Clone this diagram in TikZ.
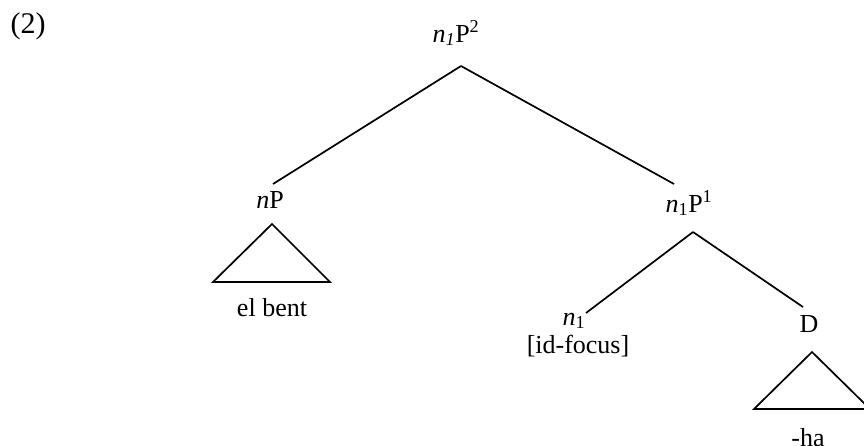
\documentclass[tikz,border=0pt]{standalone}
\usepackage{fontspec}
\setmainfont{Liberation Serif}
\usepackage{tikz}

\begin{document}
\begin{tikzpicture}[
  x=1pt,y=-1pt,
  every node/.style={font=\fontsize{26}{30}\selectfont},
  lab/.style={inner sep=0pt,anchor=base},
  branch/.style={line width=1.7pt},
  roof/.style={line width=1.7pt,line join=miter}
]
\useasboundingbox (0,0) rectangle (864,445);
\node[lab,font=\fontsize{30}{34}\selectfont] (ex) at (28,33) {(2)};
\node[lab] (np2) at (456,42) {\textit{n}\textsubscript{\textit{1}}P\textsuperscript{2}};
\node[lab] (np) at (270,208) {\textit{n}P};
\node[lab] (np1) at (689,212) {\textit{n}\textsubscript{1}P\textsuperscript{1}};
\node[lab] (n1) at (574,325) {\textit{n}\textsubscript{1}};
\node[lab] (feat) at (578,353) {[id-focus]};
\node[lab] (d) at (809,332) {D};
\node[lab] (elbent) at (272,316) {el bent};
\node[lab] (ha) at (808,446) {-ha};
% branches
\draw[branch] ([xshift=5pt,yshift=-24pt]np2.base) -- ([xshift=3pt,yshift=24pt]np.base);
\draw[branch] ([xshift=5pt,yshift=-24pt]np2.base) -- ([xshift=-15pt,yshift=28pt]np1.base);
\draw[branch] ([xshift=4pt,yshift=-20pt]np1.base) -- ([xshift=12pt,yshift=12pt]n1.base);
\draw[branch] ([xshift=4pt,yshift=-20pt]np1.base) -- ([xshift=-6pt,yshift=25pt]d.base);
% roofs
\draw[roof] ([xshift=2pt,yshift=-16pt]np.base) -- ++(-59,58) -- ++(117,0) -- cycle;
\draw[roof] ([xshift=3pt,yshift=-20pt]d.base) -- ++(-58,57) -- ++(116,0) -- cycle;
\end{tikzpicture}
\end{document}
